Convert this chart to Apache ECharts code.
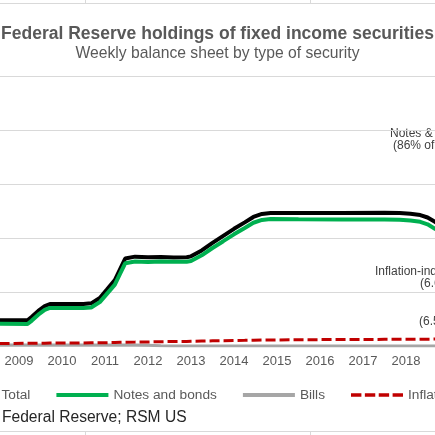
<!DOCTYPE html>
<html>
<head>
<meta charset="utf-8">
<script src="https://cdn.jsdelivr.net/npm/echarts@6/dist/echarts.min.js"></script>
<style>
  html, body { margin: 0; padding: 0; background: #fff; }
  #chart { width: 435px; height: 435px; }
</style>
</head>
<body>
<div id="chart"></div>
<script>
const FONT = '"Liberation Sans", Arial, sans-serif'

// decimal years, values in billions of dollars
const dates = [
  2008.55, 2009.2, 2009.3, 2009.45, 2009.6, 2009.72, 2010.0, 2010.5, 2010.68, 2010.88,
  2011.05, 2011.23, 2011.35, 2011.47, 2011.7, 2012.0, 2012.3, 2012.6, 2012.9, 2013.0,
  2013.25, 2013.5, 2013.75, 2014.0, 2014.25, 2014.45, 2014.65, 2014.85, 2015.5, 2016.5,
  2017.5, 2017.85, 2018.1, 2018.33, 2018.5, 2018.67, 2018.8
]
const total = [
  475, 475, 540, 650, 740, 777, 777, 777, 790, 890,
  1050, 1220, 1420, 1620, 1655, 1645, 1650, 1640, 1645, 1660,
  1770, 1910, 2040, 2170, 2290, 2390, 2445, 2462, 2462, 2462,
  2466, 2463, 2448, 2425, 2380, 2300, 2240
]
const notesAndBonds = [
  412, 407, 471, 580, 669, 705, 704, 702, 713, 812,
  970, 1137, 1334, 1532, 1565, 1556, 1565, 1558, 1560, 1573,
  1679, 1815, 1941, 2068, 2185, 2282, 2335, 2350, 2346, 2342,
  2343, 2339, 2323, 2299, 2253, 2172, 2111
]
const bills = [
  18, 18, 18, 18, 18, 18, 18, 18, 18, 18,
  18, 18, 18, 18, 18, 14, 5, 0, 0, 0,
  0, 0, 0, 0, 0, 0, 0, 0, 0, 0,
  0, 0, 0, 0, 0, 0, 0
]
const inflationIndexed = [
  45, 50, 51, 52, 53, 54, 55, 57, 59, 60,
  62, 65, 68, 70, 72, 75, 80, 82, 85, 87,
  91, 95, 99, 102, 105, 108, 110, 112, 116, 120,
  123, 124, 125, 126, 127, 128, 129
]
const yearTicks = [2009, 2010, 2011, 2012, 2013, 2014, 2015, 2016, 2017, 2018, 2019]

const SOLID_ICON = 'path://M0,0H52V4H0Z'
const DASH_ICON = 'path://M0,0H9V3H0ZM12,0H21V3H12ZM24,0H33V3H24ZM36,0H45V3H36Z'

const pairs = (vals) => dates.map((d, i) => [d, vals[i]])

// free-standing text, placed by anchor point so nothing gets truncated at the edge
function note(text, x, y, size, fill) {
  return {
    type: 'text',
    x,
    y,
    style: {
      text,
      font: size + 'px ' + FONT,
      fill,
      align: 'left',
      verticalAlign: 'middle',
      overflow: 'none'
    }
  }
}

const chart = echarts.init(document.getElementById('chart'))

chart.setOption({
  animation: false,
  backgroundColor: '#fff',
  textStyle: { fontFamily: FONT },
  title: {
    text: 'Federal Reserve holdings of fixed income securities',
    subtext: 'Weekly balance sheet by type of security',
    left: 'center',
    top: 20,
    itemGap: 3,
    textStyle: { fontFamily: FONT, fontSize: 17.5, fontWeight: 'bold', color: '#595959' },
    subtextStyle: { fontFamily: FONT, fontSize: 15.7, color: '#595959' }
  },
  legend: {
    left: -60.5,
    top: 383,
    width: 1000,
    itemWidth: 52,
    itemHeight: 14,
    itemGap: 26,
    textStyle: { fontFamily: FONT, fontSize: 13.7, color: '#595959' },
    data: [
      { name: 'Total', icon: SOLID_ICON, itemStyle: { color: '#000' } },
      { name: 'Notes and bonds', icon: SOLID_ICON, itemStyle: { color: '#00b050' } },
      { name: 'Bills', icon: SOLID_ICON, itemStyle: { color: '#a6a6a6' } },
      { name: 'Inflation-indexed', icon: DASH_ICON, itemStyle: { color: '#c00000' } }
    ]
  },
  grid: {
    left: 0,
    right: -30,
    top: 76,
    bottom: 89,
    containLabel: false,
    outerBoundsMode: 'none'
  },
  xAxis: {
    type: 'value',
    min: 2008.56,
    max: 2019.37,
    axisLine: { show: true, lineStyle: { color: '#d9d9d9' } },
    axisTick: { show: false },
    splitLine: { show: false },
    axisLabel: {
      customValues: yearTicks,
      formatter: (v) => String(Math.round(v)),
      color: '#595959',
      fontSize: 13,
      margin: 9,
      fontFamily: FONT
    }
  },
  yAxis: {
    type: 'value',
    min: 0,
    max: 5000,
    interval: 1000,
    axisLine: { show: false },
    axisTick: { show: false },
    axisLabel: { show: false },
    splitLine: { lineStyle: { color: '#d9d9d9', width: 1 } }
  },
  series: [
    {
      name: 'Total',
      type: 'line',
      symbol: 'none',
      data: pairs(total),
      lineStyle: { color: '#000', width: 4 },
      itemStyle: { color: '#000' }
    },
    {
      name: 'Notes and bonds',
      type: 'line',
      symbol: 'none',
      data: pairs(notesAndBonds),
      lineStyle: { color: '#00b050', width: 4 },
      itemStyle: { color: '#00b050' }
    },
    {
      name: 'Bills',
      type: 'line',
      symbol: 'none',
      data: pairs(bills),
      lineStyle: { color: '#a6a6a6', width: 3 },
      itemStyle: { color: '#a6a6a6' }
    },
    {
      name: 'Inflation-indexed',
      type: 'line',
      symbol: 'none',
      data: pairs(inflationIndexed),
      lineStyle: { color: '#c00000', width: 3, type: [10, 4] },
      itemStyle: { color: '#c00000' }
    }
  ],
  graphic: [
    { type: 'line', shape: { x1: 0, y1: 3.5, x2: 435, y2: 3.5 }, style: { stroke: '#d9d9d9', lineWidth: 1 } },
    { type: 'line', shape: { x1: 85.5, y1: 0, x2: 85.5, y2: 3 }, style: { stroke: '#d9d9d9', lineWidth: 1 } },
    { type: 'line', shape: { x1: 310.5, y1: 0, x2: 310.5, y2: 3 }, style: { stroke: '#d9d9d9', lineWidth: 1 } },
    { type: 'line', shape: { x1: 0, y1: 431.5, x2: 435, y2: 431.5 }, style: { stroke: '#d9d9d9', lineWidth: 1 } },
    { type: 'line', shape: { x1: 85.5, y1: 432, x2: 85.5, y2: 435 }, style: { stroke: '#d9d9d9', lineWidth: 1 } },
    { type: 'line', shape: { x1: 310.5, y1: 432, x2: 310.5, y2: 435 }, style: { stroke: '#d9d9d9', lineWidth: 1 } },
    note('Federal Reserve; RSM US', 2, 418, 15.6, '#262626'),
    note('Notes & bonds', 390, 134, 12, '#404040'),
    note('(86% of total)', 393, 146, 12, '#404040'),
    note('Inflation-indexed', 375, 272, 12, '#404040'),
    note('(6.6% of total)', 420, 284, 12, '#404040'),
    note('(6.5% of total)', 419, 322, 12, '#404040')
  ]
})
</script>
</body>
</html>
